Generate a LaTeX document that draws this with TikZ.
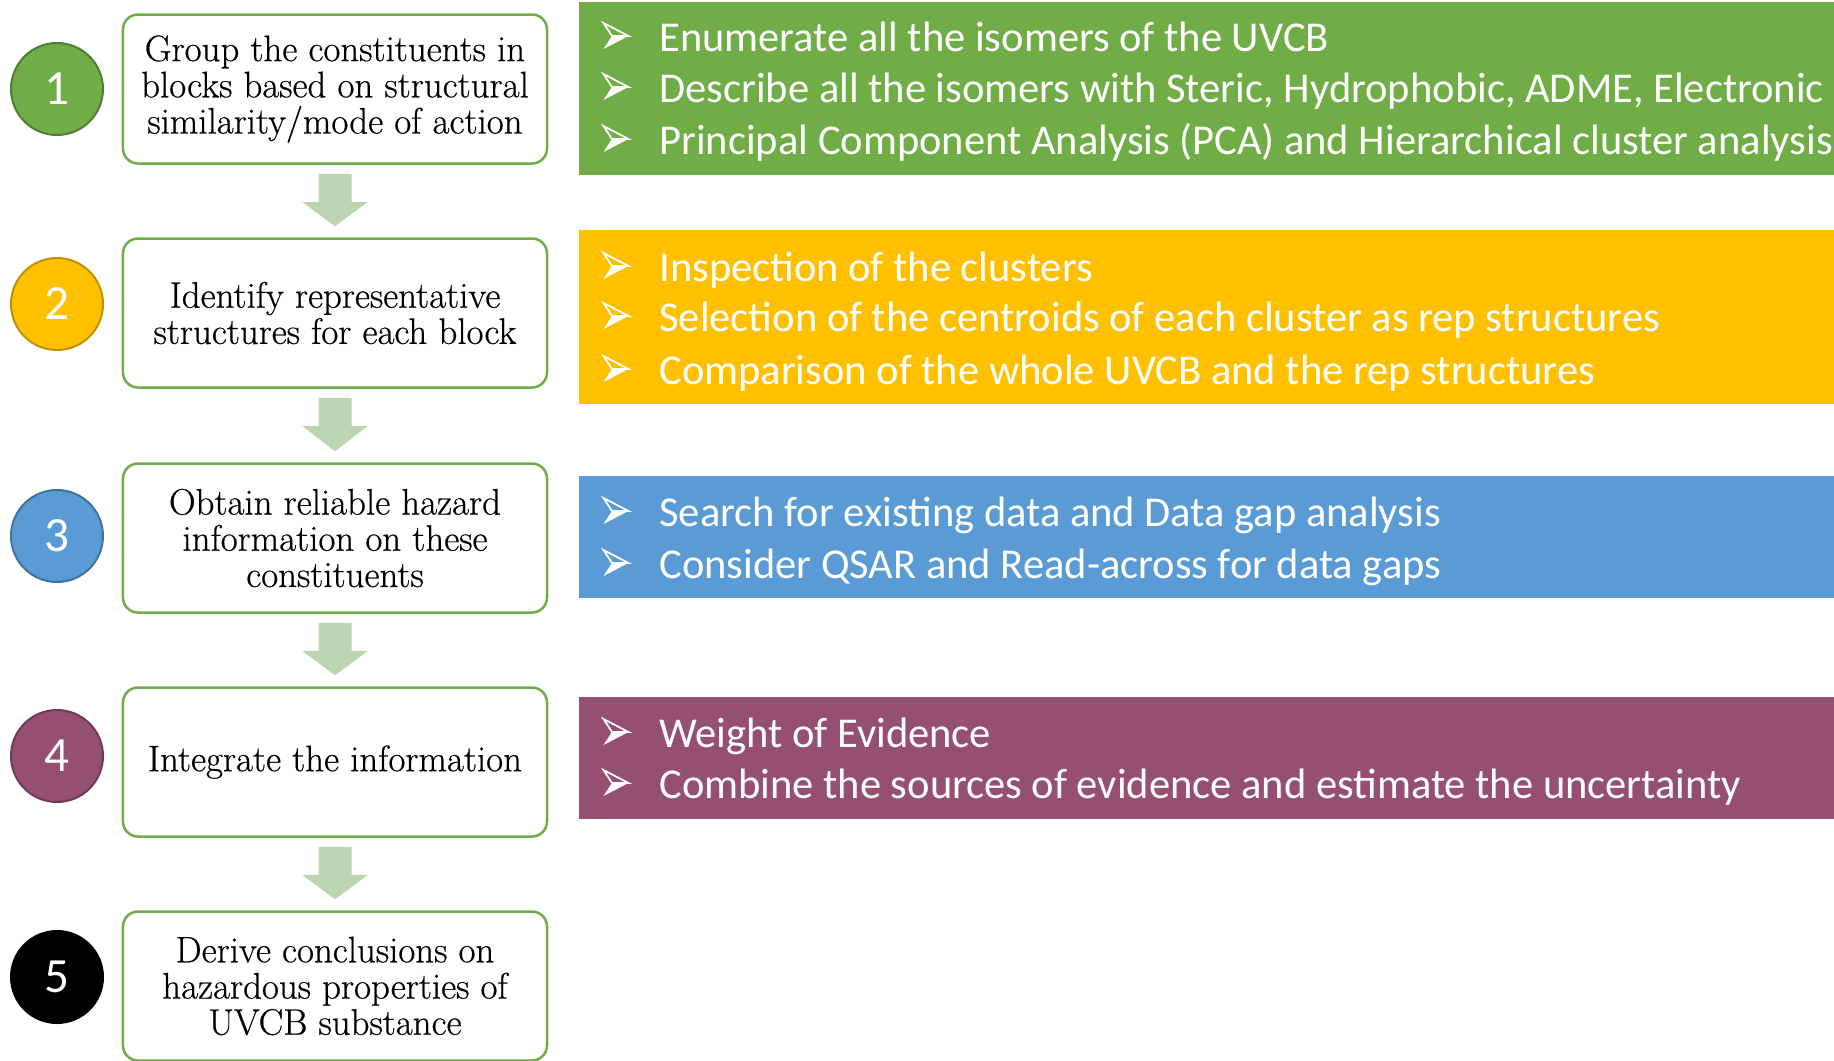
\documentclass[tikz,border=0pt]{standalone}
\usepackage{fontspec}
\newfontfamily\calibri{Carlito}
\newfontfamily\stepfont[FakeBold=0.5]{Latin Modern Roman}
\usetikzlibrary{calc}

\definecolor{boxgreen}{HTML}{70AD47}
\definecolor{arrowgreen}{RGB}{187,212,177}
\definecolor{pgreen}{HTML}{70AD47}
\definecolor{pgreendk}{HTML}{507E32}
\definecolor{pyellow}{HTML}{FFC000}
\definecolor{pyellowdk}{HTML}{BF9000}
\definecolor{pblue}{HTML}{5B9BD5}
\definecolor{pbluedk}{HTML}{41719C}
\definecolor{ppurple}{HTML}{954F72}
\definecolor{ppurpledk}{HTML}{6E3A54}

\tikzset{
  stepbox/.style={draw=boxgreen, line width=0.5mm, rounded corners=3mm, fill=white,
    minimum width=84.8mm, minimum height=29.8mm, align=center, inner sep=0pt,
    font=\stepfont\fontsize{21}{20.6}\selectfont},
  num/.style={circle, minimum size=18.4mm, line width=0.4mm, inner sep=0pt,
    text=white, font=\calibri\fontsize{28}{30}\selectfont},
  bulletline/.style={anchor=base west, yshift=-2.8mm, inner sep=0pt, text=white,
    font=\calibri\fontsize{24.2}{29}\selectfont},
  flowfill/.style={fill=arrowgreen},
  % 3-D arrowhead bullet
  bul/.pic={
    \draw[white, line width=0.35mm, line join=miter] (-12.5,-13) -- (12.5,0) -- (-4,0) -- cycle;
    \fill[white] (-4,0) -- (12.5,0) -- (-12.5,13) -- cycle;
  }
}

\begin{document}
\begin{tikzpicture}[x=0.2mm, y=-0.2mm]
  \useasboundingbox (0,0) rectangle (1834,1060);

  % coloured panels
  \fill[pgreen]  (579,2)   rectangle (1834,175);
  \fill[pyellow] (579,230) rectangle (1834,404);
  \fill[pblue]   (579,476) rectangle (1834,598);
  \fill[ppurple] (579,697) rectangle (1834,819);

  % steps
  \node[stepbox] (s1) at (335,89) {Group the constituents in\\blocks based on structural\\similarity/mode of action};
  \node[stepbox] (s2) at (335,313) {Identify representative\\structures for each block};
  \node[stepbox] (s3) at (335,538) {Obtain reliable hazard\\information on these\\constituents};
  \node[stepbox] (s4) at (335,762) {Integrate the information};
  \node[stepbox] (s5) at (335,986) {Derive conclusions on\\hazardous properties of\\UVCB substance};

  % numbers
  \node[num, fill=pgreen, draw=pgreendk] (n1) at (57,89) {1};
  \node[num, fill=pyellow, draw=pyellowdk] (n2) at (57,304) {2};
  \node[num, fill=pblue, draw=pbluedk] (n3) at (57,536) {3};
  \node[num, fill=ppurple, draw=ppurpledk] (n4) at (57,756) {4};
  \node[num, fill=black, draw=black] (n5) at (57,977) {5};

  % block arrows between steps
  \foreach \a/\b in {s1/s2, s2/s3, s3/s4, s4/s5}
    \fill[flowfill] ($(\a.south)+(-16.5,9)$) -- ($(\a.south)+(16.5,9)$)
      -- ($(\a.south)+(16.5,37)$) -- ($(\a.south)+(33,37)$)
      -- ($(\b.north)+(0,-11)$)
      -- ($(\a.south)+(-33,37)$) -- ($(\a.south)+(-16.5,37)$) -- cycle;

  % bullet points
  \foreach \y in {37,88,140,267,317,370,512,564,733,784}
    \pic at (616,\y-1) {bul};

  \node[bulletline] (g1) at (659,37) {Enumerate all the isomers of the UVCB};
  \node[bulletline] (g2) at (659,88) {Describe all the isomers with Steric, Hydrophobic, ADME, Electronic};
  \node[bulletline] (g3) at (659,140) {Principal Component Analysis (PCA) and Hierarchical cluster analysis};

  \node[bulletline] (y1) at (659,267) {Inspection of the clusters};
  \node[bulletline] (y2) at (659,317) {Selection of the centroids of each cluster as rep structures};
  \node[bulletline] (y3) at (659,370) {Comparison of the whole UVCB and the rep structures};

  \node[bulletline] (b1) at (659,512) {Search for existing data and Data gap analysis};
  \node[bulletline] (b2) at (659,564) {Consider QSAR and Read-across for data gaps};

  \node[bulletline] (v1) at (659,733) {Weight of Evidence};
  \node[bulletline] (v2) at (659,784) {Combine the sources of evidence and estimate the uncertainty};
\end{tikzpicture}
\end{document}
